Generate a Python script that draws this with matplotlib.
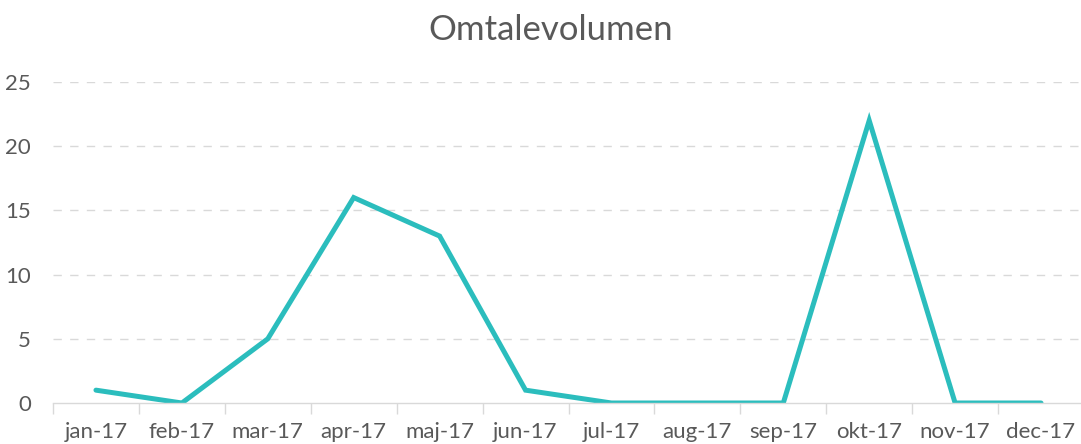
import matplotlib
matplotlib.use("Agg")
from matplotlib import pyplot as plt
import numpy as np

months = ["jan-17", "feb-17", "mar-17", "apr-17", "maj-17", "jun-17",
          "jul-17", "aug-17", "sep-17", "okt-17", "nov-17", "dec-17"]
volume = [1, 0, 5, 16, 13, 1, 0, 0, 0, 22, 0, 0]
y_ticks = [0, 5, 10, 15, 20, 25]

plt.rcParams["font.family"] = ["Lato", "DejaVu Sans"]
text_color = "#595959"
grid_color = "#D9D9D9"

fig = plt.figure(figsize=(10.81, 4.44), dpi=100)
ax = fig.add_axes([53 / 1081, 41 / 444, 1031 / 1081, 321 / 444])

x = np.arange(len(months))
ax.plot(x, volume, color="#2BBDBD", linewidth=3.6, solid_joinstyle="miter", solid_capstyle="round")

# Formatting
ax.set_xlim(-0.5, len(months) - 0.5)
ax.set_ylim(0, 25)
ax.set_yticks(y_ticks)
ax.set_yticklabels([str(t) for t in y_ticks])
ax.set_xticks(x)
ax.set_xticklabels(months)
ax.set_xticks(np.arange(len(months) + 1) - 0.5, minor=True)

ax.tick_params(axis="y", length=0, pad=16, labelsize=16, labelcolor=text_color)
ax.tick_params(axis="x", which="major", length=0, pad=14, labelsize=16, labelcolor=text_color)
ax.tick_params(axis="x", which="minor", length=8, width=1, color=grid_color)

for t in y_ticks[1:]:
    ax.axhline(t, color=grid_color, linewidth=1, linestyle=(0, (6, 6)), zorder=0)

for side in ["top", "right", "left"]:
    ax.spines[side].set_visible(False)
ax.spines["bottom"].set_color(grid_color)
ax.spines["bottom"].set_linewidth(1)

fig.text(551 / 1081, 1 - 30 / 444, "Omtalevolumen", ha="center", va="center",
         fontsize=25, color=text_color)

fig.savefig("out.png", dpi=100)
